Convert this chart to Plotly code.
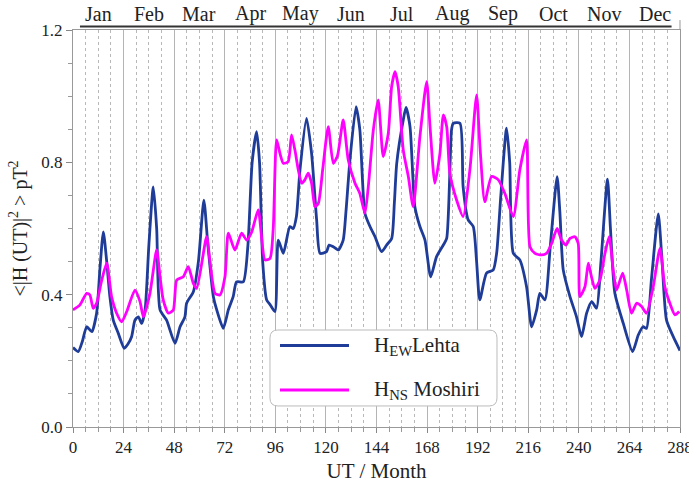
import plotly.graph_objects as go

# ---- data ----
months = ["Jan", "Feb", "Mar", "Apr", "May", "Jun", "Jul", "Aug", "Sep", "Oct", "Nov", "Dec"]
x_ticks = [0, 24, 48, 72, 96, 120, 144, 168, 192, 216, 240, 264, 288]
y_ticks = [0.0, 0.4, 0.8, 1.2]

ew_x = [0, 2.5, 4.5, 6.5, 8.9, 11.2, 12.8, 14.4, 16, 17.5, 19.1, 21.5, 24.3, 26, 27.8, 29.4, 31, 32.6, 34.2, 36, 38.1,
        39.7, 41.3, 44.4, 48.4, 50.8, 53.1, 53.9, 57.1, 59.5, 62.1, 64, 66.6, 68.2, 71.3, 73.7, 76, 77.6, 80.8, 83, 85,
        87.1, 88.5, 90, 91.9, 93.5, 95.8, 97.4, 99.8, 102.9, 104.5, 106, 107.7, 110.8, 113.2, 115.6, 117.2, 120.3,
        121.5, 123.5, 125.9, 128.2, 129.5, 131.4, 134.3, 136.1, 138.5, 140.9, 143.3, 146.4, 148.8, 151.2, 152.5,
        153.6, 156.7, 158, 159.9, 162.2, 164.6, 167, 169.7, 172.5, 175.7, 177.3, 179.6, 180.4, 183.6, 185.1, 187.5,
        189.9, 191.5, 193, 196.2, 199.4, 201, 203, 205.7, 207.2, 208.9, 212, 215.2, 217.6, 220, 221.5, 223.9, 226.5,
        229.7, 231, 232.6, 235.8, 238.9, 241.3, 243.7, 246.1, 248.4, 250.5, 253.6, 255, 257.1, 261.1, 265.5, 268.2,
        270.5, 272.1, 274.5, 277.7, 279.5, 281.6, 284.8, 288]
ew_y = [0.24, 0.228, 0.26, 0.303, 0.288, 0.344, 0.48, 0.59, 0.5, 0.394, 0.323, 0.283, 0.238, 0.25, 0.273, 0.323, 0.333,
        0.313, 0.354, 0.55, 0.726, 0.6, 0.354, 0.323, 0.253, 0.303, 0.333, 0.374, 0.409, 0.5, 0.686, 0.55, 0.394, 0.354,
        0.298, 0.354, 0.394, 0.439, 0.439, 0.55, 0.8, 0.893, 0.8, 0.5, 0.384, 0.37, 0.349, 0.565, 0.525, 0.606, 0.6,
        0.636, 0.777, 0.933, 0.827, 0.626, 0.525, 0.53, 0.55, 0.545, 0.535, 0.565, 0.65, 0.807, 0.968, 0.898, 0.646,
        0.606, 0.575, 0.53, 0.55, 0.57, 0.68, 0.797, 0.928, 0.966, 0.908, 0.666, 0.606, 0.565, 0.454, 0.515, 0.55,
        0.57, 0.898, 0.918, 0.918, 0.726, 0.626, 0.606, 0.5, 0.384, 0.465, 0.475, 0.525, 0.7, 0.903, 0.8, 0.525, 0.505,
        0.424, 0.303, 0.354, 0.404, 0.384, 0.55, 0.757, 0.65, 0.475, 0.394, 0.333, 0.273, 0.344, 0.379, 0.359, 0.5,
        0.749, 0.6, 0.404, 0.313, 0.228, 0.278, 0.303, 0.298, 0.45, 0.644, 0.5, 0.323, 0.273, 0.231]

ns_x = [0, 3.3, 6.5, 8, 9.6, 11.2, 13.5, 16, 18.3, 20.7, 23.1, 25.5, 29.4, 31.8, 33.4, 36.5, 39.7, 41.3, 42.8, 45.2,
        47.6, 49.2, 52.3, 54.7, 57.1, 58.7, 63.4, 65, 67.4, 69.7, 72.1, 73.7, 76.8, 80, 82.4, 84.8, 87.9, 91.1, 93.5, 95,
        96.6, 98.2, 99.8, 102.1, 103.7, 105.3, 106.9, 108.5, 110, 111.6, 113.2, 114.8, 116.4, 118.5, 121.1, 123.5,
        125.5, 128.2, 130.6, 133.8, 136.1, 138.5, 140.1, 142.5, 144.8, 147.2, 149.6, 151.2, 152.8, 154.3, 156.7,
        159.1, 161.4, 164.6, 167.8, 169.4, 171.7, 174.1, 175.7, 177.3, 178.8, 182, 185.1, 188.3, 191.5, 193.1, 195.4,
        198.6, 201.8, 204.9, 208.9, 212, 215.2, 216.8, 219.2, 222.3, 224.7, 227.1, 229.7, 231.8, 233.9, 235.8, 238.1,
        239.7, 240.5, 242.9, 244.5, 246, 247.6, 250, 252.4, 254.4, 256.3, 257.9, 260.8, 262.7, 265, 267.4, 269.8,
        272.1, 275.3, 278.5, 280.8, 283.2, 285.6, 287.6]
ns_y = [0.354, 0.369, 0.404, 0.399, 0.359, 0.374, 0.44, 0.495, 0.394, 0.344, 0.318, 0.349, 0.414, 0.379, 0.333, 0.404,
        0.535, 0.454, 0.384, 0.344, 0.354, 0.444, 0.454, 0.485, 0.434, 0.419, 0.575, 0.5, 0.404, 0.399, 0.454, 0.586,
        0.535, 0.586, 0.565, 0.59, 0.656, 0.505, 0.51, 0.6, 0.868, 0.827, 0.797, 0.802, 0.883, 0.837, 0.777, 0.737,
        0.747, 0.767, 0.737, 0.666, 0.676, 0.78, 0.908, 0.797, 0.82, 0.928, 0.807, 0.737, 0.706, 0.646, 0.726, 0.898,
        0.989, 0.817, 0.888, 1.029, 1.074, 1.029, 0.837, 0.757, 0.666, 0.878, 1.044, 0.908, 0.737, 0.827, 0.943,
        0.908, 0.767, 0.686, 0.636, 0.777, 1.004, 0.847, 0.681, 0.757, 0.747, 0.706, 0.636, 0.777, 0.868, 0.545,
        0.525, 0.52, 0.525, 0.555, 0.6, 0.565, 0.55, 0.57, 0.575, 0.555, 0.394, 0.424, 0.495, 0.454, 0.419, 0.444,
        0.525, 0.575, 0.475, 0.414, 0.465, 0.414, 0.344, 0.374, 0.364, 0.344, 0.424, 0.54, 0.424, 0.374, 0.339, 0.349]

series_names = ["H<sub>EW</sub>Lehta", "H<sub>NS</sub> Moshiri"]
series_colors = ["#1e3c98", "#ff00ff"]

FONT = "Liberation Serif"
TXT = "#222222"

fig = go.Figure()
fig.add_trace(go.Scatter(x=ew_x, y=ew_y, mode="lines", name=series_names[0],
                         line=dict(color=series_colors[0], width=2.8, shape="spline", smoothing=0.6),
                         showlegend=False))
fig.add_trace(go.Scatter(x=ns_x, y=ns_y, mode="lines", name=series_names[1],
                         line=dict(color=series_colors[1], width=2.8, shape="spline", smoothing=0.6),
                         showlegend=False))

fig.update_layout(
    width=689, height=484,
    margin=dict(l=73, r=9, t=30, b=57, autoexpand=False),
    paper_bgcolor="white", plot_bgcolor="white",
    font=dict(family=FONT, color=TXT, size=17),
    showlegend=False,
)

fig.update_xaxes(
    range=[0, 288], tickvals=x_ticks, ticktext=[str(v) for v in x_ticks],
    ticklabeloverflow="allow", automargin=False,
    showgrid=True, gridcolor="#b4b4b4", gridwidth=1,
    ticks="outside", ticklen=5, tickcolor="#888",
    minor=dict(dtick=6, tick0=0, showgrid=True, griddash="dot", gridcolor="#b8b8b8", gridwidth=1,
               ticks="outside", ticklen=4, tickcolor="#999"),
    showline=True, linecolor="#999", linewidth=1, mirror=True, zeroline=False,
    tickfont=dict(size=17, family=FONT, color=TXT),
    title=dict(text="UT / Month", font=dict(size=21, family=FONT, color=TXT), standoff=6),
)
fig.update_yaxes(
    range=[0, 1.2], tickvals=y_ticks, ticktext=["%.1f" % v for v in y_ticks],
    showgrid=False, zeroline=False, automargin=False,
    ticks="outside", ticklen=6, tickcolor="#888",
    minor=dict(dtick=0.1, tick0=0, ticks="outside", ticklen=4, tickcolor="#999", showgrid=False),
    showline=True, linecolor="#999", linewidth=1, mirror=True,
    tickfont=dict(size=17, family=FONT, color=TXT),
    title=dict(text="&lt;|H (UT)|<sup>2</sup> &gt; pT<sup>2</sup>", font=dict(size=20, family=FONT, color=TXT),
               standoff=8),
)

# month labels above the plot
for i, m in enumerate(months):
    fig.add_annotation(x=12 + 24 * i, y=1.008, xref="x", yref="paper", text=m, showarrow=False,
                       yanchor="bottom", font=dict(size=20, family=FONT, color=TXT))
fig.add_shape(type="line", xref="x", yref="paper", x0=3.3, x1=284, y0=1.009, y1=1.009,
              line=dict(color="#333", width=2))
fig.add_shape(type="line", xref="paper", yref="paper", x0=1, x1=1, y0=1, y1=1.025,
              line=dict(color="#999", width=1))

# legend drawn manually (rounded box, long line samples)
x0, x1, y0, y1 = 0.3245, 0.6985, 0.053, 0.2443
rx, ry = 0.013, 0.02
path = (f"M{x0+rx},{y0} L{x1-rx},{y0} Q{x1},{y0} {x1},{y0+ry} L{x1},{y1-ry} Q{x1},{y1} {x1-rx},{y1} "
        f"L{x0+rx},{y1} Q{x0},{y1} {x0},{y1-ry} L{x0},{y0+ry} Q{x0},{y0} {x0+rx},{y0} Z")
fig.add_shape(type="path", xref="paper", yref="paper", path=path, fillcolor="white",
              line=dict(color="#bbbbbb", width=1), layer="above")
leg_y = [(427 - 345.5) / 397, (427 - 390) / 397]
for i in range(2):
    fig.add_shape(type="line", xref="paper", yref="paper", x0=(280 - 73) / 607, x1=(349 - 73) / 607,
                  y0=leg_y[i], y1=leg_y[i], line=dict(color=series_colors[i], width=3), layer="above")
    fig.add_annotation(x=(372 - 73) / 607, y=leg_y[i], xref="paper", yref="paper", text=series_names[i],
                       showarrow=False, xanchor="left", yanchor="middle",
                       font=dict(size=21, family=FONT, color=TXT))

fig.write_html("out.html")
